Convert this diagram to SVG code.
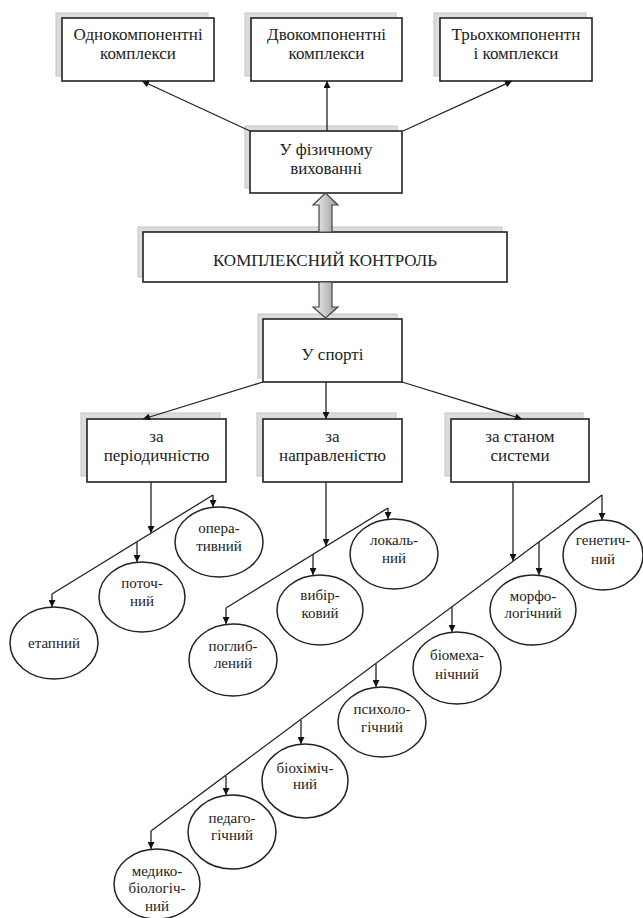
<svg xmlns="http://www.w3.org/2000/svg" width="643" height="918" viewBox="0 0 643 918" font-family="'Liberation Serif', 'DejaVu Serif', serif">
<style>
.bx{fill:#fff;stroke:#222;stroke-width:1.6}
.sh{fill:#dcdcdc;stroke:#c4c4c4;stroke-width:1}
.el{fill:#fff;stroke:#222;stroke-width:1.5}
.ln{fill:none;stroke:#222;stroke-width:1.3}
.ar{marker-end:url(#ah)}
text{font-family:'Liberation Serif','DejaVu Serif',serif;fill:#222;text-anchor:middle}
.t16{font-size:17px}
.t14{font-size:15px}
.dbl{fill:url(#gr);stroke:#444;stroke-width:1.2}
</style>
<defs>
<marker id="ah" viewBox="0 0 10 10" refX="10" refY="5" markerWidth="8" markerHeight="7" markerUnits="userSpaceOnUse" orient="auto"><path d="M0,0 L10,5 L0,10 z" fill="#111"/></marker>
<linearGradient id="gr" x1="0" y1="0" x2="1" y2="0"><stop offset="0" stop-color="#f4f4f4"/><stop offset="1" stop-color="#9a9a9a"/></linearGradient>
</defs>
<rect width="643" height="918" fill="#fff"/>

<g id="n-odno"><rect class="sh" x="56" y="13" width="152" height="63"/><rect class="bx" x="62" y="18" width="152" height="63"/><text class="t16" x="138" y="40">Однокомпонентні</text><text class="t16" x="138" y="59">комплекси</text></g>
<g id="n-dvo"><rect class="sh" x="245" y="13" width="151" height="63"/><rect class="bx" x="251" y="18" width="151" height="63"/><text class="t16" x="326.5" y="40">Двокомпонентні</text><text class="t16" x="326.5" y="59">комплекси</text></g>
<g id="n-tryokh"><rect class="sh" x="434" y="13" width="152" height="63"/><rect class="bx" x="440" y="18" width="152" height="63"/><text class="t16" x="516" y="40">Трьохкомпонентн</text><text class="t16" x="516" y="59">і комплекси</text></g>
<g id="n-fiz"><rect class="sh" x="245" y="126" width="152" height="62"/><rect class="bx" x="250" y="131" width="152" height="62"/><text class="t16" x="326" y="155">У фізичному</text><text class="t16" x="326" y="174">вихованні</text></g>
<g id="n-kontrol"><rect class="sh" x="138" y="227" width="364" height="50"/><rect class="bx" x="143" y="232" width="364" height="50"/><text class="t16" x="325" y="266">КОМПЛЕКСНИЙ КОНТРОЛЬ</text></g>
<g id="n-sport"><rect class="sh" x="258" y="314" width="139" height="64"/><rect class="bx" x="263" y="319" width="139" height="63"/><text class="t16" x="332.5" y="360">У спорті</text></g>
<g id="n-period"><rect class="sh" x="81" y="413" width="139" height="63"/><rect class="bx" x="87" y="419" width="139" height="63"/><text class="t16" x="156.5" y="442">за</text><text class="t16" x="156.5" y="461">періодичністю</text></g>
<g id="n-napr"><rect class="sh" x="257" y="413" width="139" height="63"/><rect class="bx" x="263" y="419" width="139" height="63"/><text class="t16" x="332.5" y="442">за</text><text class="t16" x="332.5" y="461">направленістю</text></g>
<g id="n-stan"><rect class="sh" x="445" y="413" width="138" height="63"/><rect class="bx" x="451" y="419" width="138" height="63"/><text class="t16" x="520" y="442">за станом</text><text class="t16" x="520" y="461">системи</text></g>

<g id="e-operat"><ellipse class="el" cx="219" cy="542" rx="44" ry="35"/><text class="t14" x="219" y="533">опера-</text><text class="t14" x="219" y="551">тивний</text></g>
<g id="e-potoch"><ellipse class="el" cx="142" cy="597" rx="43" ry="35"/><text class="t14" x="142" y="588">поточ-</text><text class="t14" x="142" y="606">ний</text></g>
<g id="e-etap"><ellipse class="el" cx="54" cy="643" rx="44" ry="36"/><text class="t14" x="54" y="648">етапний</text></g>
<g id="e-lokal"><ellipse class="el" cx="394" cy="554" rx="44" ry="35"/><text class="t14" x="394" y="545">локаль-</text><text class="t14" x="394" y="563">ний</text></g>
<g id="e-vybir"><ellipse class="el" cx="320" cy="610" rx="43" ry="35"/><text class="t14" x="320" y="600">вибір-</text><text class="t14" x="320" y="618">ковий</text></g>
<g id="e-pohlyb"><ellipse class="el" cx="233" cy="660" rx="44" ry="36"/><text class="t14" x="233" y="651">поглиб-</text><text class="t14" x="233" y="668">лений</text></g>
<g id="e-henet"><ellipse class="el" cx="603" cy="555" rx="40" ry="35"/><text class="t14" x="603" y="545">генетич-</text><text class="t14" x="603" y="564">ний</text></g>
<g id="e-morf"><ellipse class="el" cx="533" cy="610" rx="43" ry="35"/><text class="t14" x="533" y="601">морфо-</text><text class="t14" x="533" y="618">логічний</text></g>
<g id="e-biomekh"><ellipse class="el" cx="457" cy="668" rx="44" ry="36"/><text class="t14" x="457" y="660">біомеха-</text><text class="t14" x="457" y="679">нічний</text></g>
<g id="e-psykh"><ellipse class="el" cx="382" cy="722" rx="44" ry="35"/><text class="t14" x="382" y="714">психоло-</text><text class="t14" x="382" y="732">гічний</text></g>
<g id="e-biokhim"><ellipse class="el" cx="305" cy="781" rx="43" ry="37"/><text class="t14" x="305" y="773">біохіміч-</text><text class="t14" x="305" y="789">ний</text></g>
<g id="e-pedag"><ellipse class="el" cx="232" cy="832" rx="44" ry="37"/><text class="t14" x="232" y="823">педаго-</text><text class="t14" x="232" y="840">гічний</text></g>
<g id="e-medyko"><ellipse class="el" cx="157" cy="884" rx="43" ry="35"/><text class="t14" x="157" y="876">медико-</text><text class="t14" x="157" y="893">біологіч-</text><text class="t14" x="157" y="911">ний</text></g>

<g id="connectors">
<line class="ln ar" x1="250" y1="131" x2="142" y2="81"/>
<line class="ln ar" x1="327" y1="131" x2="327" y2="81"/>
<line class="ln ar" x1="403" y1="131" x2="512" y2="81"/>
<path class="dbl" d="M319,232 L319,205 L313,205 L325.5,193 L338,205 L332,205 L332,232 Z"/>
<path class="dbl" d="M319,282 L319,307 L313,307 L325.5,318 L338,307 L332,307 L332,282 Z"/>
<line class="ln ar" x1="263" y1="382" x2="143" y2="419"/>
<line class="ln ar" x1="326" y1="382" x2="326" y2="419"/>
<line class="ln ar" x1="402" y1="382" x2="522" y2="419"/>
<line class="ln ar" x1="151" y1="482" x2="151" y2="533"/>
<path class="ln" d="M213,495 L52,594"/>
<line class="ln ar" x1="213" y1="495" x2="213" y2="507"/>
<line class="ln ar" x1="137" y1="542" x2="137" y2="562"/>
<line class="ln ar" x1="52" y1="594" x2="52" y2="607"/>
<line class="ln ar" x1="326" y1="482" x2="326" y2="546"/>
<path class="ln" d="M388,508 L226,608"/>
<line class="ln ar" x1="388" y1="508" x2="388" y2="519"/>
<line class="ln ar" x1="313" y1="554" x2="313" y2="575"/>
<line class="ln ar" x1="226" y1="608" x2="226" y2="624"/>
<line class="ln ar" x1="513" y1="482" x2="513" y2="561"/>
<path class="ln" d="M602,495 L151,831"/>
<line class="ln ar" x1="602" y1="495" x2="602" y2="520"/>
<line class="ln ar" x1="539" y1="542" x2="539" y2="575"/>
<line class="ln ar" x1="452" y1="607" x2="452" y2="632"/>
<line class="ln ar" x1="376" y1="664" x2="376" y2="687"/>
<line class="ln ar" x1="301" y1="720" x2="301" y2="744"/>
<line class="ln ar" x1="226" y1="776" x2="226" y2="795"/>
<line class="ln ar" x1="151" y1="831" x2="151" y2="849"/>
</g>
</svg>
